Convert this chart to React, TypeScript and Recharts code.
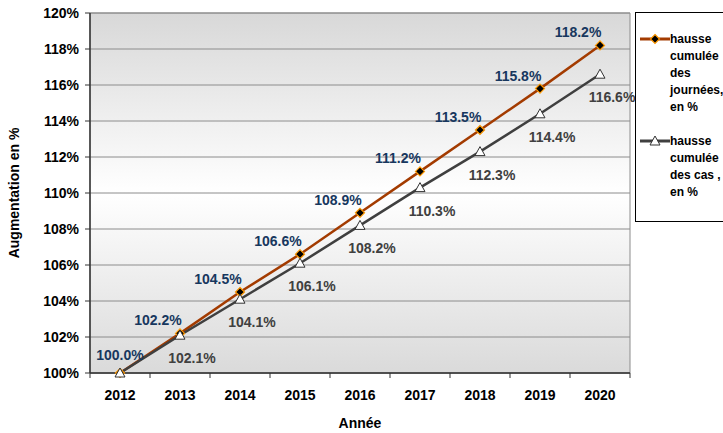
import React from "react";
import {
    LineChart,
    Line,
    XAxis,
    YAxis,
    CartesianGrid,
    ReferenceArea,
    Legend,
} from "recharts";

const years = ["2012", "2013", "2014", "2015", "2016", "2017", "2018", "2019", "2020"];
const journees = [100.0, 102.2, 104.5, 106.6, 108.9, 111.2, 113.5, 115.8, 118.2];
const cas = [100.0, 102.1, 104.1, 106.1, 108.2, 110.3, 112.3, 114.4, 116.6];
const yTicks = [100, 102, 104, 106, 108, 110, 112, 114, 116, 118, 120];

const seriesNames = ["hausse cumulée des journées, en %", "hausse cumulée des cas , en %"];

const data = years.map((year, i) => ({ year, journees: journees[i], cas: cas[i] }));

const FONT = "'Liberation Sans', Arial, sans-serif";
const LINE1 = "#a33b00";
const LINE2 = "#3f3f3f";

const fmt = (v: number) => `${v.toFixed(1)}%`;

function Diamond(props: any) {
    const { cx, cy } = props;
    if (cx == null || cy == null) return null;
    const r = 4.5;
    return (
        <polygon
            points={`${cx},${cy - r} ${cx + r},${cy} ${cx},${cy + r} ${cx - r},${cy}`}
            fill="#000"
            stroke="#ff9900"
            strokeWidth={1.2}
        />
    );
}

function Triangle(props: any) {
    const { cx, cy } = props;
    if (cx == null || cy == null) return null;
    return (
        <polygon
            points={`${cx},${cy - 5} ${cx + 5},${cy + 4} ${cx - 5},${cy + 4}`}
            fill="#fff"
            stroke="#333"
            strokeWidth={1}
        />
    );
}

function LabelTop(props: any) {
    const { x, y, value, index } = props;
    const dx = index === 0 ? 0 : -22;
    const dy = index === 0 ? -18 : -13;
    return (
        <text x={x + dx} y={y + dy} textAnchor="middle" dominantBaseline="central"
            fill="#17375e" fontSize={14} fontWeight="bold" fontFamily={FONT}>
            {fmt(value)}
        </text>
    );
}

function LabelBottom(props: any) {
    const { x, y, value, index } = props;
    if (index === 0) return null;
    return (
        <text x={x + 12} y={y + 23} textAnchor="middle" dominantBaseline="central"
            fill="#404040" fontSize={14} fontWeight="bold" fontFamily={FONT}>
            {fmt(value)}
        </text>
    );
}

function YearTick(props: any) {
    const { x, y, payload, index, visibleTicksCount } = props;
    const half = payload.offset ?? 30;
    const top = y - 8;
    return (
        <g>
            <line x1={x - half} x2={x - half} y1={top} y2={top + 5} stroke="#333" />
            {index === visibleTicksCount - 1 && (
                <line x1={x + half} x2={x + half} y1={top} y2={top + 5} stroke="#333" />
            )}
            <text x={x} y={top + 22} textAnchor="middle" dominantBaseline="central"
                fontSize={14} fontWeight="bold" fontFamily={FONT} fill="#000">
                {payload.value}
            </text>
        </g>
    );
}

function LegendBox() {
    const item = (name: string, marker: React.ReactNode, color: string) => (
        <div style={{ display: "flex", alignItems: "flex-start", marginBottom: 17 }}>
            <svg width={30} height={14} style={{ flex: "none", marginTop: 1 }}>
                <line x1={0} x2={30} y1={7} y2={7} stroke={color} strokeWidth={3} />
                {marker}
            </svg>
            <div style={{ width: 56, fontSize: 12, fontWeight: "bold", lineHeight: "17px", color: "#000" }}>
                {name}
            </div>
        </div>
    );
    return (
        <div
            style={{
                position: "absolute",
                left: 635,
                top: 12,
                width: 100,
                height: 210,
                border: "1px solid #000",
                background: "#fff",
                boxSizing: "border-box",
                paddingTop: 18,
                paddingLeft: 4,
                fontFamily: FONT,
            }}
        >
            {item(seriesNames[0], <Diamond cx={15} cy={7} />, LINE1)}
            {item(seriesNames[1], <Triangle cx={15} cy={7} />, LINE2)}
        </div>
    );
}

export default function App() {
    return (
        <div style={{ position: "absolute", left: 0, top: 0, width: 723, height: 433, background: "#fff", overflow: "hidden" }}>
            <LineChart width={723} height={433} data={data} margin={{ top: 13, right: 93, left: 0, bottom: 0 }}>
                <defs>
                    <linearGradient id="bg" x1="0" y1="0" x2="0" y2="1">
                        <stop offset="0%" stopColor="#d8d8d8" />
                        <stop offset="50%" stopColor="#ffffff" />
                        <stop offset="100%" stopColor="#dadada" />
                    </linearGradient>
                </defs>
                <CartesianGrid vertical={false} stroke="#8c8c8c" fill="url(#bg)" fillOpacity={1} />
                <ReferenceArea y1={100} y2={120} fill="none" stroke="#8c8c8c" ifOverflow="visible" />
                <XAxis
                    dataKey="year"
                    scale="band"
                    height={60}
                    axisLine={{ stroke: "#333", strokeWidth: 1.5 }}
                    tickLine={false}
                    tick={<YearTick />}
                    interval={0}
                    label={{
                        content: () => (
                            <text x={360} y={423} textAnchor="middle" dominantBaseline="central"
                                fontSize={14} fontWeight="bold" fontFamily={FONT} fill="#000">
                                Année
                            </text>
                        ),
                    }}
                />
                <YAxis
                    width={90}
                    domain={[100, 120]}
                    ticks={yTicks}
                    interval={0}
                    axisLine={{ stroke: "#333", strokeWidth: 1.5 }}
                    tickLine={{ stroke: "#333" }}
                    tickSize={5}
                    tickMargin={6}
                    tickFormatter={(v: number) => `${v}%`}
                    tick={{ fontSize: 14, fontWeight: "bold", fontFamily: FONT, fill: "#000" }}
                    label={{
                        content: () => (
                            <text x={14} y={193} textAnchor="middle" dominantBaseline="central"
                                transform="rotate(-90 14 193)"
                                fontSize={14} fontWeight="bold" fontFamily={FONT} fill="#000">
                                Augmentation en %
                            </text>
                        ),
                    }}
                />
                <Legend content={() => <LegendBox />} wrapperStyle={{ position: "absolute", left: 0, top: 0, width: 0, height: 0 }} />
                <Line
                    dataKey="journees"
                    name={seriesNames[0]}
                    stroke={LINE1}
                    strokeWidth={2.5}
                    dot={<Diamond />}
                    activeDot={false}
                    label={<LabelTop />}
                    isAnimationActive={false}
                />
                <Line
                    dataKey="cas"
                    name={seriesNames[1]}
                    stroke={LINE2}
                    strokeWidth={2.5}
                    dot={<Triangle />}
                    activeDot={false}
                    label={<LabelBottom />}
                    isAnimationActive={false}
                />
            </LineChart>
        </div>
    );
}
